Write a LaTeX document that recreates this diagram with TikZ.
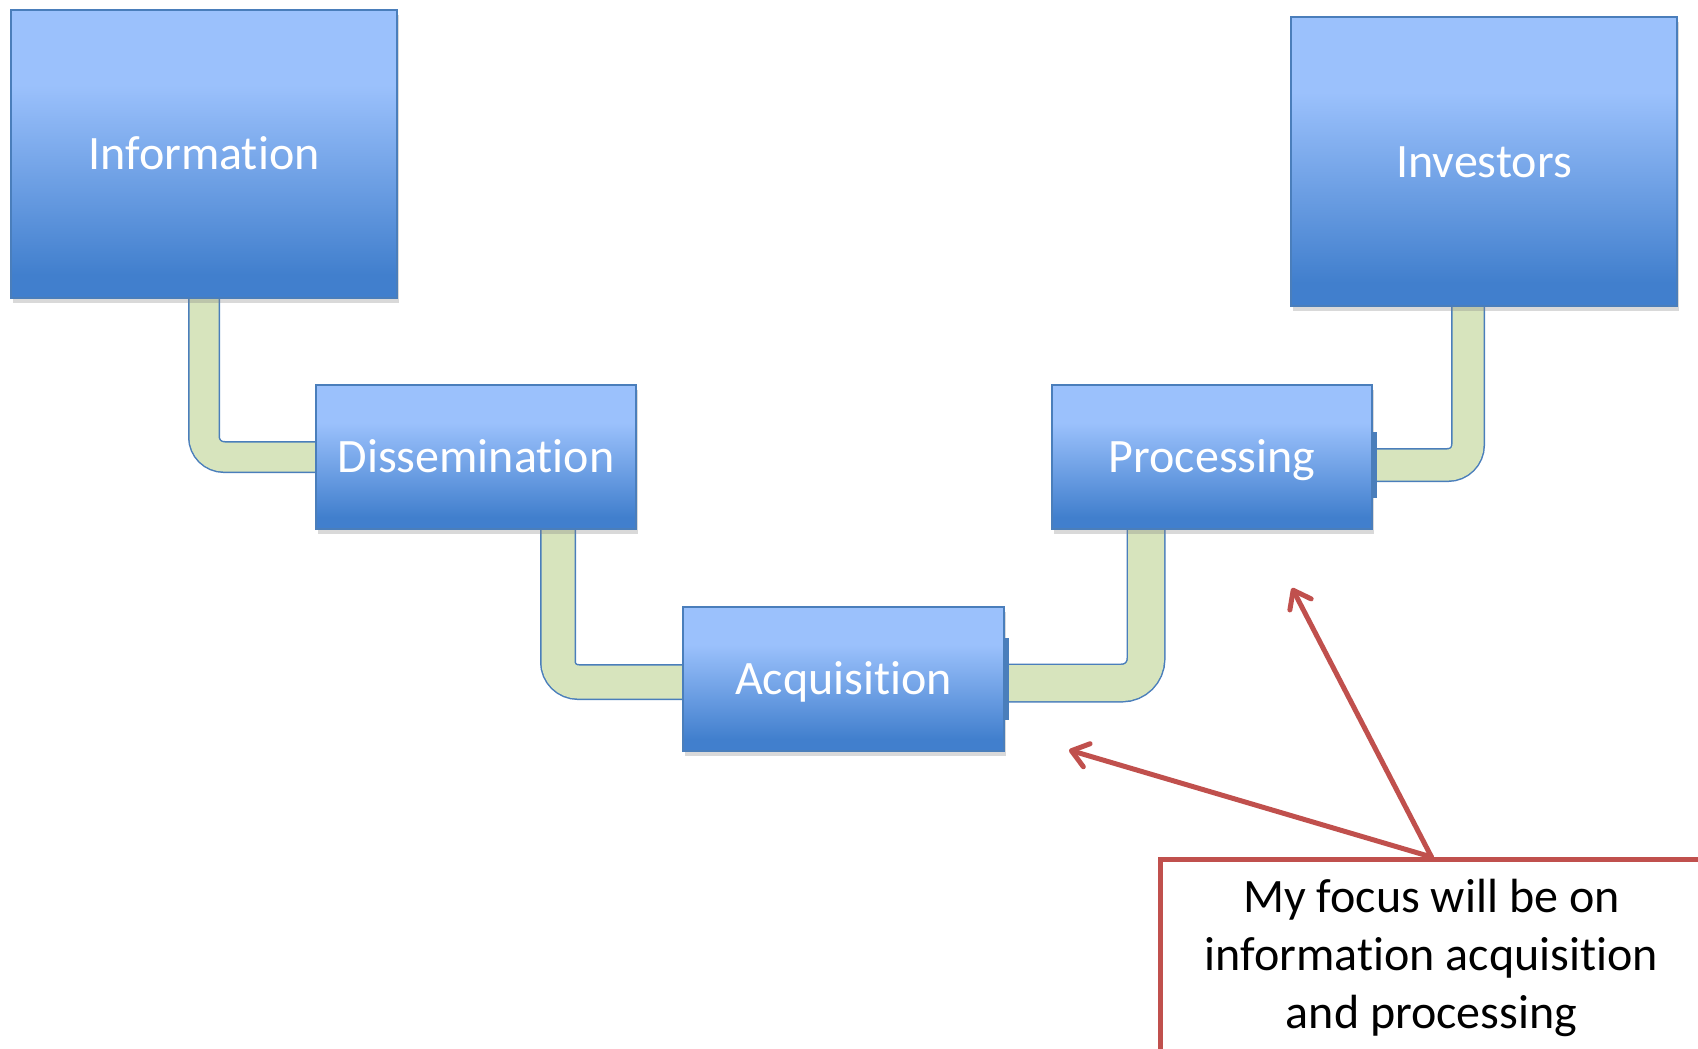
\documentclass[tikz,border=0pt]{standalone}
\usepackage{fontspec}
\setmainfont[Ligatures=NoCommon]{Carlito}
\usetikzlibrary{arrows.meta, calc, shadows, backgrounds}

\definecolor{boxtop}{RGB}{155,193,252}
\definecolor{boxbottom}{RGB}{65,127,205}
\definecolor{boxline}{RGB}{74,126,187}
\definecolor{pipefill}{RGB}{215,228,189}
\definecolor{focusred}{RGB}{192,80,77}
\pgfdeclareverticalshading{stagefill}{100bp}{color(0bp)=(boxbottom); color(25bp)=(boxbottom); color(29bp)=(boxbottom); color(62bp)=(boxtop); color(75bp)=(boxtop); color(100bp)=(boxtop)}

\tikzset{
  stage/.style={rectangle, draw=boxline, line width=0.75pt, shade, shading=stagefill, text=white,
    font=\fontsize{24}{29}\selectfont, text height=15.5pt, text depth=0pt,
    drop shadow={shadow xshift=1pt, shadow yshift=-2.5pt, opacity=0.3}},
  pipe/.style={draw=boxline, line width=0.75pt, double=pipefill, double distance=#1, rounded corners=10pt},
  pipe/.default=15.5pt,
  pipetab/.style={rectangle, fill=boxline, draw=boxline, inner sep=0pt, minimum width=1.5pt},
  focusbox/.style={rectangle, draw=focusred, line width=2.5pt, align=center, text=black,
    font=\fontsize{24}{29}\selectfont},
  focusarrow/.style={draw=focusred, line width=2.5pt, line cap=round,
    -{Straight Barb[length=8pt, width=12pt, round]}}
}

\begin{document}
\begin{tikzpicture}[x=0.5pt, y=-0.5pt]
\clip (0,0) rectangle (1698,1049);
% Stages
\node[stage, minimum width=193pt, minimum height=144pt] (info) at (204,154) {Information};
\node[stage, minimum width=160pt, minimum height=72pt] (diss) at (476,457) {Dissemination};
\node[stage, minimum width=160.5pt, minimum height=72pt] (acq) at (843.5,679) {Acquisition};
\node[stage, minimum width=160pt, minimum height=72pt] (proc) at (1212,457) {Processing};
\node[stage, minimum width=193pt, minimum height=144.5pt] (inv) at (1484,161.5) {Investors};
\node[pipetab, minimum height=40.5pt, anchor=west] (acqtab) at (acq.east) {};
\node[pipetab, minimum height=32.5pt, anchor=west] (proctab) at ($(proc.east)+(0,8)$) {};
% Pipes
\begin{pgfonlayer}{background}
\draw[pipe=14.5pt] (info.south) |- (diss.west);
\draw[pipe=16.5pt] ($(diss.south)+(82,0)$) |- ($(acq.west)+(0,3)$);
\draw[pipe=18pt, rounded corners=12pt] ($(acq.east)+(0,4)$) -| ($(proc.south)+(-66,0)$);
\draw[pipe] ($(proc.east)+(0,8)$) -| ($(inv.south)+(-16,0)$);
\end{pgfonlayer}
% Focus
\node[focusbox, anchor=north west, minimum width=271pt, minimum height=98pt] (focus) at (1158,857)
  {My focus will be on\\information acquisition\\and processing};
\coordinate (acqtip) at (1069,750);
\coordinate (proctip) at (1292,588);
\draw[focusarrow] (focus.north) -- (acqtip);
\draw[focusarrow] (focus.north) -- (proctip);
\end{tikzpicture}
\end{document}
